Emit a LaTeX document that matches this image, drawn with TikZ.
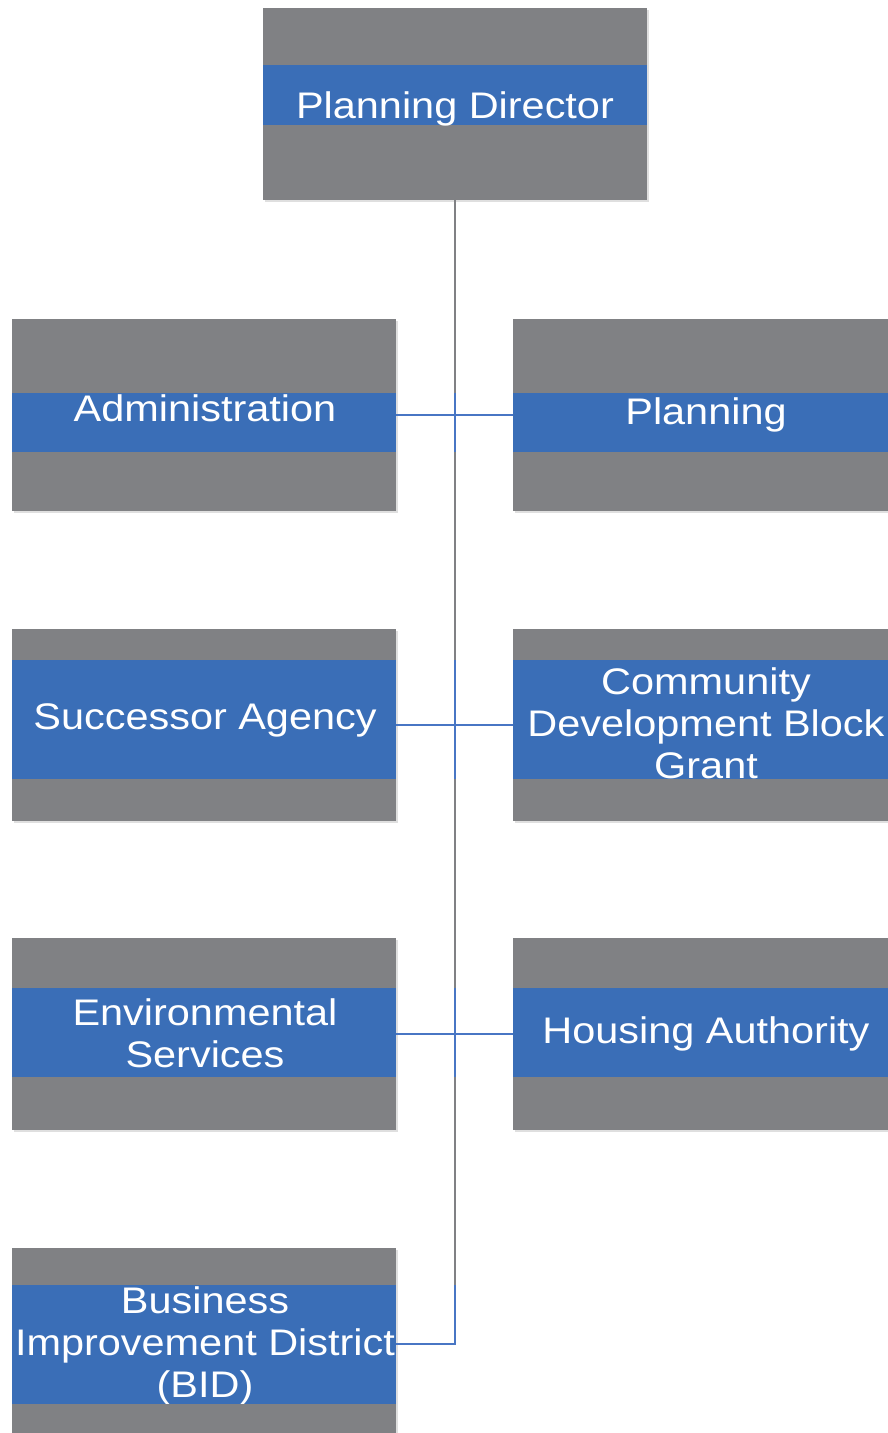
\documentclass[tikz,border=0pt]{standalone}
\usepackage{fontspec}
\usetikzlibrary{shadows}
\newfontfamily\boxfont[FakeStretch=1.12]{Liberation Sans}

\definecolor{boxgray}{RGB}{128,129,132}
\definecolor{bandblue}{RGB}{58,110,183}
\definecolor{linkblue}{RGB}{72,118,196}

\tikzset{
    graybox/.style={fill=boxgray, inner sep=0pt, minimum width=384pt, minimum height=192pt, anchor=north west,
        drop shadow={shadow xshift=1.5pt, shadow yshift=-1.5pt, opacity=0.25, fill=gray}},
    band/.style={fill=bandblue, inner sep=0pt, minimum width=384pt, anchor=north west},
    boxtext/.style={text=white, font=\boxfont\fontsize{37}{42}\selectfont, align=center, anchor=base, inner sep=0pt},
    trunk/.style={draw=boxgray, line width=2pt},
    branch/.style={draw=linkblue, line width=1.5pt}
}

\begin{document}
\begin{tikzpicture}[x=1pt, y=-1pt]
    \useasboundingbox (0,0) rectangle (888,1433);
    \clip (0,0) rectangle (888,1433);

    % Top box
    \node[graybox] (dir) at (263,8) {};
    \node[band, minimum height=60pt] (dirb) at (263,65) {};
    \node[boxtext] (dirtext) at (455,118) {Planning Director};

    % Department boxes: name/left/top/band top/band bottom/baseline of last line/text
    \foreach \name/\x/\y/\bt/\bb/\tb/\txt in {
        adm/12/319/393/452/421/{Administration},
        pln/513/319/393/452/424/{Planning},
        sa/12/629/660/779/729/{Successor Agency},
        cdbg/513/629/660/779/778/{Community\\Development Block\\Grant},
        env/12/938/988/1077/1067/{Environmental\\Services},
        ha/513/938/988/1077/1043/{Housing Authority},
        bid/12/1248/1285/1404/1397/{Business\\Improvement District\\(BID)}} {
        \pgfmathsetmacro\bh{\bb-\bt}
        \node[graybox] (\name) at (\x,\y) {};
        \node[band, minimum height=\bh pt] (\name b) at (\x,\bt) {};
        \node[boxtext] (\name text) at (\x+193,\tb) {\txt};
        % gray strips hide text running out of the band
        \fill[boxgray] (\name.north west) rectangle (\name b.north east);
        \fill[boxgray] (\name b.south west) rectangle (\name.south east);
    }

    % Trunk from the director down to the BID row
    \draw[trunk] (dir.south) -- (dir.south |- bid.east);
    \foreach \name in {adm,sa,env} {
        \draw[branch] (dir.south |- \name b.north) -- (dir.south |- \name b.south);
    }

    % Branches
    \draw[branch] (adm.east) -- (pln.west);
    \draw[branch] (sa.east) -- (cdbg.west);
    \draw[branch] (env.east) -- (ha.west);
    \draw[branch] (bid.east) -| (dir.south |- bidb.north);
\end{tikzpicture}
\end{document}
